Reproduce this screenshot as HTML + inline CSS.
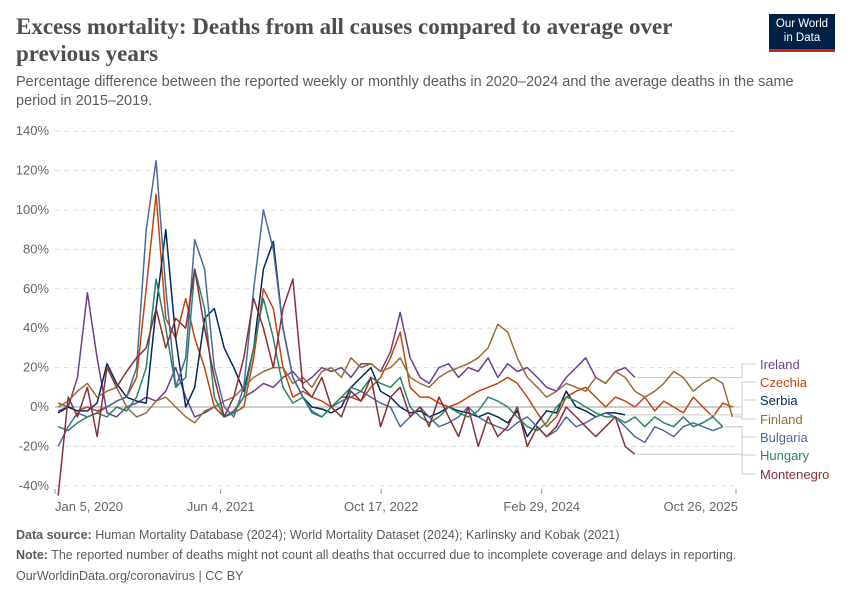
<!DOCTYPE html>
<html><head><meta charset="utf-8">
<style>
body{margin:0;background:#fff;font-family:"Liberation Sans",sans-serif;}
#wrap{position:relative;width:850px;height:600px;overflow:hidden;}
.title{position:absolute;left:16px;top:13px;width:700px;font-family:"Liberation Serif",serif;font-size:23px;line-height:27px;color:#4e4e4e;font-weight:bold;}
.sub{position:absolute;left:16px;top:73px;width:820px;font-size:14.5px;line-height:19px;color:#5b5b5b;}
.logo{position:absolute;left:769px;top:14px;width:66px;height:38px;background:#002147;color:#fff;font-size:11.5px;text-align:center;line-height:14px;padding-top:3px;box-sizing:border-box;border-bottom:3px solid #ce261e;}
.foot{position:absolute;left:16px;font-size:12.5px;color:#5b5b5b;}
</style></head><body>
<div id="wrap">
<div class="title">Excess mortality: Deaths from all causes compared to average over previous years</div>
<div class="sub">Percentage difference between the reported weekly or monthly deaths in 2020–2024 and the average deaths in the same period in 2015–2019.</div>
<div class="logo">Our World<br>in Data</div>
<svg id="chart" width="850" height="600" style="position:absolute;left:0;top:0"></svg>
<div class="foot" style="top:528px"><b>Data source:</b> Human Mortality Database (2024); World Mortality Dataset (2024); Karlinsky and Kobak (2021)</div>
<div class="foot" style="top:548px"><b>Note:</b> The reported number of deaths might not count all deaths that occurred due to incomplete coverage and delays in reporting.</div>
<div class="foot" style="top:569px">OurWorldinData.org/coronavirus | CC BY</div>
</div>
<script>
const yTicks=[-40,-20,0,20,40,60,80,100,120,140];
const xTickLabels=["Jan 5, 2020","Jun 4, 2021","Oct 17, 2022","Feb 29, 2024","Oct 26, 2025"];
const xTickDates=["2020-01-05","2021-06-04","2022-10-17","2024-02-29","2025-10-26"];
const seriesNames=["Ireland","Czechia","Serbia","Finland","Bulgaria","Hungary","Montenegro"];
const ireland=[-2,0,15,58,25,-3,-5,0,2,5,3,8,20,5,-5,-3,0,-5,-2,5,8,12,10,15,18,12,15,20,18,20,15,22,22,18,28,48,25,15,12,20,22,15,20,18,25,15,22,18,20,15,10,8,15,20,25,15,12,18,20,15];
const czechia=[2,0,-2,0,-2,0,3,5,15,60,108,45,35,55,35,20,0,-5,-3,0,25,60,50,20,5,8,5,3,0,5,5,3,10,15,25,38,10,5,5,2,0,2,5,8,10,12,15,12,5,-3,-10,-5,5,8,10,5,0,5,3,0,5,-2,3,0,-3,5,0,-5,2,0];
const serbia=[-3,0,-2,-2,2,22,12,5,3,2,50,90,35,0,10,45,50,30,20,8,30,70,84,40,15,5,0,-1,-3,0,10,15,20,8,5,0,-3,-2,-5,-3,0,-2,-3,-5,-3,-5,-8,-2,-15,-8,-2,-3,8,0,-2,-5,-3,-3,-4];
const finland=[0,3,8,12,5,8,10,0,-5,-3,3,5,0,-5,-8,-2,0,3,5,10,15,18,20,20,12,15,10,18,20,15,25,20,22,18,20,25,15,12,10,15,18,20,22,25,30,42,38,25,15,10,5,8,12,10,8,15,12,18,15,8,5,8,12,18,15,8,12,15,12,-5];
const bulgaria=[-20,-10,-3,-5,-3,0,3,5,20,90,125,60,10,25,85,70,20,0,-5,10,60,100,80,40,15,5,-2,-5,0,3,5,8,5,2,0,-10,-5,0,-5,-10,-8,-5,0,-5,-8,-10,-12,-8,-5,-10,-15,-12,-5,-10,-8,-5,-3,-5,-10,-15,-18,-10,-12,-15,-10,-8,-10,-12,-10];
const hungary=[-10,-12,-8,-5,-3,-5,0,-2,5,20,65,40,10,15,70,50,5,-5,-3,5,30,55,35,10,2,5,-3,-5,0,5,10,8,15,12,10,15,0,-5,-8,-5,0,-3,-5,-2,5,3,0,-5,-10,-12,-8,0,5,3,0,-3,-5,-5,-8,-5,-10,-5,-8,-10,-5,-10,-8,-5,-10];
const montenegro=[-45,5,-5,10,-15,20,10,18,25,30,50,30,45,40,70,40,15,-5,5,25,55,40,20,50,65,10,5,15,0,-5,8,3,15,-10,5,10,-5,0,-10,5,-5,-15,0,-20,-5,-15,-10,0,-20,-10,-15,-10,0,-5,-10,-15,-10,-5,-20,-24];
const seriesData=[ireland,czechia,serbia,finland,bulgaria,hungary,montenegro];
const colors=["#6d3e91","#c0460c","#00295b","#996d39","#4c6a9c","#2c8465","#883039"];
const labelY=[368,386,404,423,441,459,478];

const svg=document.getElementById('chart');
const NS="http://www.w3.org/2000/svg";
const x0=55,x1=736,y0=407,pxPer20=39.4;
const t0=Date.parse("2020-01-05"),t1=Date.parse("2025-10-26");
function xScale(t){return x0+(t-t0)/(t1-t0)*(x1-x0);}
function yScale(v){return y0-v/20*pxPer20;}
function monthT(i){return Date.UTC(2020,i,15);}
function mk(tag,attrs){const e=document.createElementNS(NS,tag);for(const k in attrs)e.setAttribute(k,attrs[k]);svg.appendChild(e);return e;}

yTicks.forEach(v=>{
  const y=yScale(v);
  const g=mk('line',{x1:x0,x2:x1,y1:y,y2:y,stroke:v===0?'#9a9a9a':'#dddddd','stroke-dasharray':v===0?'':'5,4','stroke-width':1});
  
  
  const t=mk('text',{x:49,y:y+4,'text-anchor':'end','font-size':13,fill:'#666','font-family':'Liberation Sans, sans-serif'});
  t.textContent=v+'%';
  
  
});
xTickDates.forEach((d,i)=>{
  const x=xScale(Date.parse(d));
  const tk=mk('line',{x1:x,x2:x,y1:489,y2:494,stroke:'#999'});
  
  
  const anchor=i===0?'start':(i===xTickDates.length-1?'end':'middle');
  const t=mk('text',{x:i===xTickDates.length-1?x+2:x,y:511,'text-anchor':anchor,'font-size':13,fill:'#666','font-family':'Liberation Sans, sans-serif'});
  t.textContent=xTickLabels[i];
  
  
});
seriesData.forEach((arr,s)=>{
  const pts=arr.map((v,i)=>xScale(monthT(i)).toFixed(1)+','+yScale(v).toFixed(1)).join(' ');
  const p=mk('polyline',{points:pts,fill:'none',stroke:colors[s],'stroke-width':1.5,'stroke-linejoin':'round'});
  
  
  const last=arr[arr.length-1];
  const lx=xScale(monthT(arr.length-1));
  const c=mk('polyline',{points:`${lx+2},${yScale(last)} 742,${yScale(last)} 742,${labelY[s]-4} 756,${labelY[s]-4}`,fill:'none',stroke:'#ccc','stroke-width':1});
  
  
  const t=mk('text',{x:760,y:labelY[s]+1,'font-size':13,fill:colors[s],'font-family':'Liberation Sans, sans-serif'});
  t.textContent=seriesNames[s];
  
  
});
</script>
</body></html>
